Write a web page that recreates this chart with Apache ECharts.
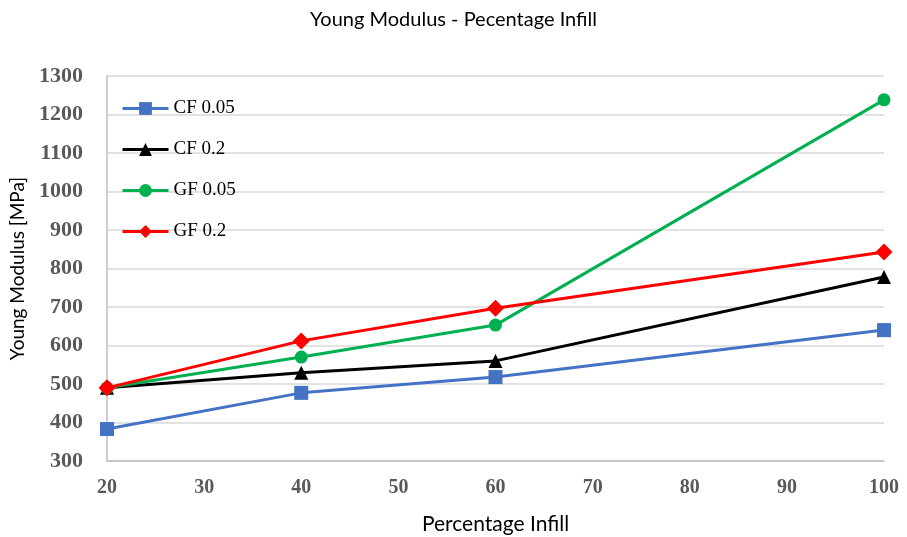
<!DOCTYPE html>
<html><head><meta charset="utf-8">
<script src="https://cdn.jsdelivr.net/npm/echarts@6/dist/echarts.min.js"></script>
<style>html,body{margin:0;padding:0;background:#fff}#c{width:907px;height:537px}</style>
</head><body><div id="c"></div>
<script>
const infill = [20, 40, 60, 100];
const seriesNames = ['CF 0.05', 'CF 0.2', 'GF 0.05', 'GF 0.2'];
const cf005 = [383, 477, 518, 640];
const cf02 = [490, 529, 560, 778];
const gf005 = [490, 570, 653, 1238];
const gf02 = [490, 612, 697, 843];
const values = [cf005, cf02, gf005, gf02];
const colors = ['#4472C4', '#000000', '#00B050', '#FF0000'];
const symbols = ['rect', 'triangle', 'circle', 'diamond'];
const sizes = [14, 14, 13, 17];

const chart = echarts.init(document.getElementById('c'));
chart.setOption({
  animation: false,
  backgroundColor: '#fff',
  title: { text: 'Young Modulus - Pecentage Infill', left: 'center', top: 5,
    textStyle: { fontFamily: 'Lato', fontWeight: 'normal', fontSize: 20, color: '#000' } },
  legend: {
    orient: 'vertical', left: 116, top: 94, itemGap: 22, itemWidth: 46, itemHeight: 16,
    textStyle: { fontFamily: 'Liberation Serif', fontSize: 19, color: '#000' },
    lineStyle: { width: 3 },
    data: seriesNames
  },
  grid: { left: 107, right: 23, top: 76, bottom: 76, containLabel: false, outerBoundsMode: 'none' },
  xAxis: {
    type: 'value', min: 20, max: 100, interval: 10,
    name: 'Percentage Infill', nameLocation: 'middle', nameGap: 53,
    nameTextStyle: { fontFamily: 'Lato', fontSize: 21, color: '#000' },
    axisLine: { show: true, lineStyle: { color: '#bfbfbf', width: 1.5 } },
    axisTick: { show: false },
    splitLine: { show: false },
    axisLabel: { fontFamily: 'Liberation Serif', fontWeight: 'bold', fontSize: 20, color: '#595959', margin: 17 }
  },
  yAxis: {
    type: 'value', min: 300, max: 1300, interval: 100,
    name: 'Young Modulus [MPa]', nameLocation: 'middle', nameGap: 80,
    nameTextStyle: { fontFamily: 'Lato', fontSize: 19, color: '#000' },
    axisLine: { show: true, lineStyle: { color: '#bfbfbf', width: 1.5 } },
    axisTick: { show: false },
    splitLine: { show: true, lineStyle: { color: '#d9d9d9', width: 1.5 } },
    axisLabel: { fontFamily: 'Liberation Serif', fontWeight: 'bold', fontSize: 22, color: '#595959', margin: 24,
      formatter: v => String(v) }
  },
  series: seriesNames.map((n, i) => ({
    name: n, type: 'line',
    data: infill.map((x, j) => [x, values[i][j]]),
    symbol: symbols[i], symbolSize: sizes[i],
    lineStyle: { color: colors[i], width: 3 },
    itemStyle: { color: colors[i] },
    z: 2 + i
  }))
});
</script></body></html>
